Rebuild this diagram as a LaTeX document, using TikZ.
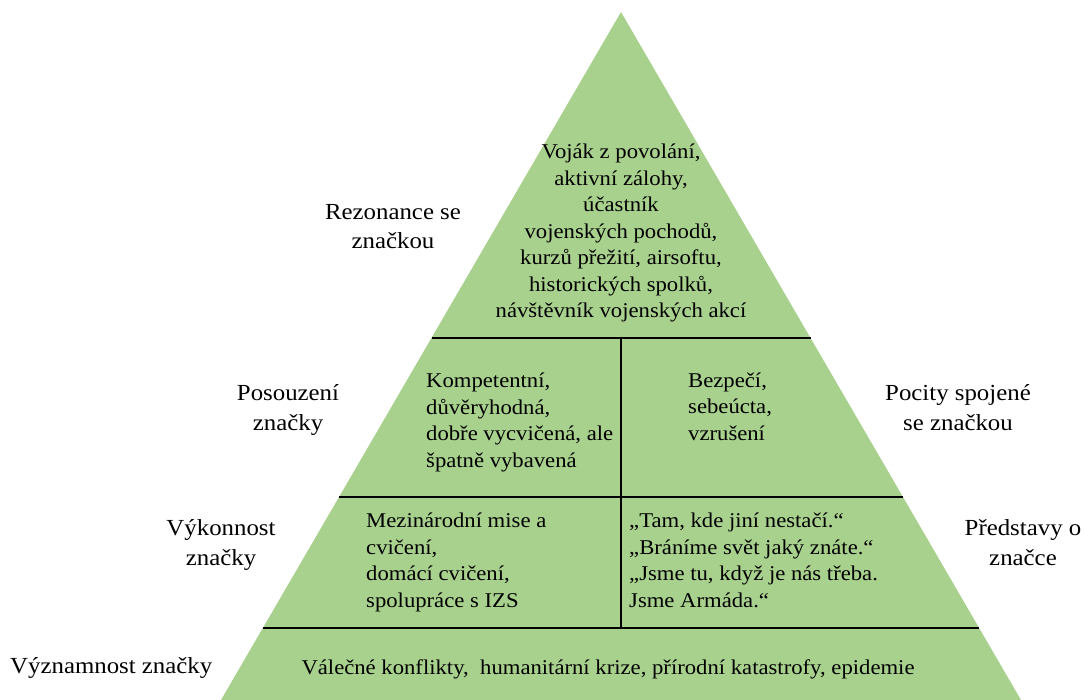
\documentclass[tikz,border=0pt]{standalone}
\usepackage{fontspec}
\setmainfont[FakeStretch=1.08]{Liberation Serif}
\definecolor{pyrgreen}{RGB}{169,209,142}
\begin{document}
\begin{tikzpicture}[x=1pt,y=-1pt,
  divider/.style={line width=2pt,black},
  inner/.style={font=\fontsize{21}{26.5}\selectfont,inner sep=0pt,anchor=base},
  side/.style={font=\fontsize{23}{29.5}\selectfont,inner sep=0pt,align=center,anchor=base}]
\useasboundingbox (0,0) rectangle (1084,700);

% pyramid outline
\coordinate (apex) at (621,12);
\coordinate (bl) at (221,700);
\coordinate (br) at (1021,700);
\fill[pyrgreen] (apex) -- (br) -- (bl) -- cycle;

% level dividers
\coordinate (l1a) at (431.5,338);
\coordinate (l1b) at (810.5,338);
\coordinate (l2a) at (339,497);
\coordinate (l2b) at (903,497);
\coordinate (l3a) at (263,628);
\coordinate (l3b) at (979,628);
\coordinate (vtop) at (621,338);
\coordinate (vbot) at (621,628);
\draw[divider] (l1a) -- (l1b);
\draw[divider] (l2a) -- (l2b);
\draw[divider] (l3a) -- (l3b);
\draw[divider] (vtop) -- (vbot);

% texts inside the pyramid (positions give the baseline of the last line)
\node[inner,align=center] (top) at (621,318)
  {Voják z povolání,\\aktivní zálohy,\\účastník\\vojenských pochodů,\\kurzů přežití, airsoftu,\\historických spolků,\\návštěvník vojenských akcí};
\node[inner,align=left,anchor=base west] (midl) at (426,467)
  {Kompetentní,\\důvěryhodná,\\dobře vycvičená, ale\\špatně vybavená};
\node[inner,align=left,anchor=base west] (midr) at (688,440)
  {Bezpečí,\\sebeúcta,\\vzrušení};
\node[inner,align=left,anchor=base west] (lowl) at (366,607)
  {Mezinárodní mise a\\cvičení,\\domácí cvičení,\\spolupráce s IZS};
\node[inner,align=left,anchor=base west] (lowr) at (629,607)
  {„Tam, kde jiní nestačí.“\\„Bráníme svět jaký znáte.“\\„Jsme tu, když je nás třeba.\\Jsme Armáda.“};
\node[inner] (base) at (608,674)
  {Válečné konflikty, \ humanitární krize, přírodní katastrofy, epidemie};

% side labels
\node[side] (rez) at (393,249) {Rezonance se\\značkou};
\node[side] (pos) at (288,430) {Posouzení\\značky};
\node[side] (poc) at (958,430) {Pocity spojené\\se značkou};
\node[side] (vyk) at (221,565) {Výkonnost\\značky};
\node[side] (pre) at (1023,565) {Představy o\\značce};
\node[side,anchor=base west] (vyz) at (10,673) {Významnost značky};
\end{tikzpicture}
\end{document}
